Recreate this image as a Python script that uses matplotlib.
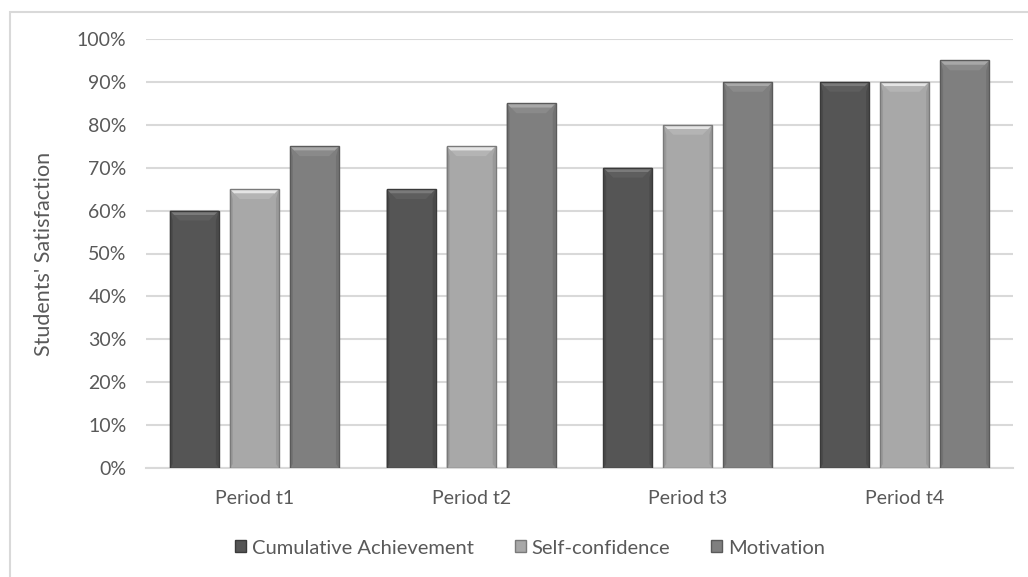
import matplotlib
matplotlib.use("Agg")
import matplotlib.pyplot as plt
from matplotlib.patches import Rectangle, Polygon
from matplotlib.ticker import PercentFormatter
import numpy as np

periods = ["Period t1", "Period t2", "Period t3", "Period t4"]
series_names = ["Cumulative Achievement", "Self-confidence", "Motivation"]
cumulative = [60, 65, 70, 90]
self_conf = [65, 75, 80, 90]
motivation = [75, 85, 90, 95]

body_colors = ["#555555", "#a8a8a8", "#7f7f7f"]
top_hi_colors = ["#7a7a7a", "#e4e4e4", "#a8a8a8"]
top_lo_colors = ["#5e5e5e", "#b4b4b4", "#8a8a8a"]
side_colors = ["#4a4a4a", "#999999", "#727272"]
edge_colors = ["#3a3a3a", "#7a7a7a", "#5a5a5a"]

text_color = "#595959"
grid_color = "#d9d9d9"

plt.rcParams["font.family"] = ["Lato", "DejaVu Sans"]

fig = plt.figure(figsize=(10.28, 5.77), dpi=100)
ax = fig.add_axes([146 / 1028, 1 - 468 / 577, 867 / 1028, 429 / 577])

# light frame round the chart area
fig.patches.append(Rectangle((10 / 1028, -0.05), 1.05, 1 - 12 / 577 + 0.05,
                             transform=fig.transFigure, fill=False,
                             edgecolor="#d9d9d9", linewidth=1.5, zorder=0))

x = np.arange(len(periods))
width = 0.226
step = 0.277
bevel_y = 2.3
bevel_x = 0.045


def bevel_bar(xc, h, k):
    x0, x1 = xc - width / 2, xc + width / 2
    ax.add_patch(Rectangle((x0, 0), width, h, facecolor=body_colors[k],
                           edgecolor="none", zorder=3))
    # side strips
    sx = bevel_x * 0.3
    ax.add_patch(Polygon([(x0, 0), (x0 + sx, bevel_y * 0.4),
                          (x0 + sx, h - bevel_y), (x0, h)],
                         closed=True, facecolor=side_colors[k],
                         edgecolor="none", zorder=3))
    ax.add_patch(Polygon([(x1, 0), (x1 - sx, bevel_y * 0.4),
                          (x1 - sx, h - bevel_y), (x1, h)],
                         closed=True, facecolor=side_colors[k],
                         edgecolor="none", zorder=3))
    # top bevel, lighter upper half and darker lower half
    mid_y = h - bevel_y * 0.45
    mid_x = bevel_x * 0.45
    ax.add_patch(Polygon([(x0, h), (x1, h), (x1 - mid_x, mid_y),
                          (x0 + mid_x, mid_y)], closed=True,
                         facecolor=top_hi_colors[k], edgecolor="none",
                         zorder=3))
    ax.add_patch(Polygon([(x0 + mid_x, mid_y), (x1 - mid_x, mid_y),
                          (x1 - bevel_x, h - bevel_y),
                          (x0 + bevel_x, h - bevel_y)], closed=True,
                         facecolor=top_lo_colors[k], edgecolor="none",
                         zorder=3))
    ax.add_patch(Rectangle((x0, 0), width, h, facecolor="none",
                           edgecolor=edge_colors[k], linewidth=1.0, zorder=4))


for k, vals in enumerate([cumulative, self_conf, motivation]):
    for i, v in enumerate(vals):
        bevel_bar(x[i] + (k - 1) * step, v, k)

ax.set_xlim(-0.5, len(periods) - 0.5)
ax.set_ylim(0, 100)
ax.set_yticks(np.arange(0, 101, 10))
ax.yaxis.set_major_formatter(PercentFormatter(decimals=0))
ax.set_xticks(x)
ax.set_xticklabels(periods)
ax.grid(axis="y", color=grid_color, linewidth=1.5, zorder=0)
ax.set_axisbelow(True)
for s in ["top", "right", "left"]:
    ax.spines[s].set_visible(False)
ax.spines["bottom"].set_color(grid_color)
ax.spines["bottom"].set_linewidth(1.5)
ax.tick_params(axis="both", length=0, labelsize=14, colors=text_color)
ax.tick_params(axis="y", pad=14)
ax.tick_params(axis="x", pad=16)
ax.set_ylabel("Students' Satisfaction", fontsize=15.5, color=text_color)
ax.yaxis.set_label_coords(-92 / 867, 0.5)

handles = [Rectangle((0, 0), 1, 1, facecolor=body_colors[k],
                     edgecolor=edge_colors[k]) for k in range(3)]
fig.legend(handles, series_names, loc="center", ncol=3,
           bbox_to_anchor=(530 / 1028, 1 - 548 / 577), frameon=False,
           fontsize=14.5, labelcolor=text_color, handlelength=0.55,
           handleheight=0.55, handletextpad=0.3, columnspacing=2.0)

fig.savefig("out.png", dpi=100)
